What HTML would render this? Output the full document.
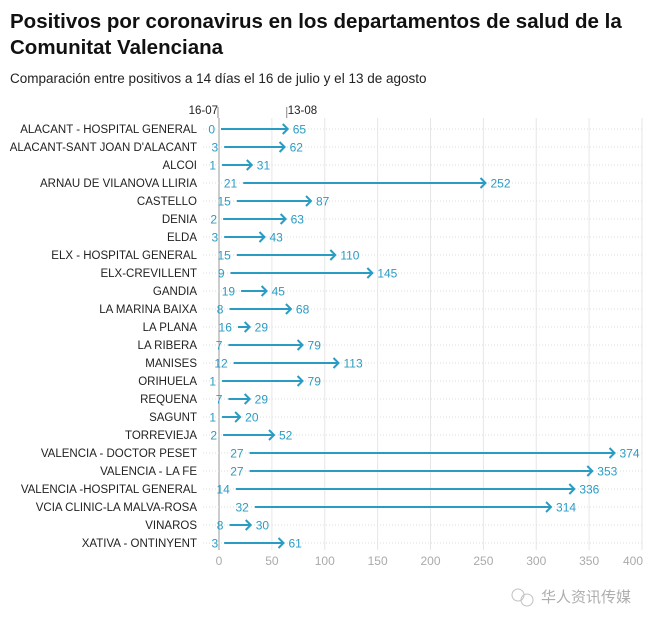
<!DOCTYPE html>
<html><head><meta charset="utf-8">
<style>
body{margin:0;background:#fff;width:657px;height:625px;overflow:hidden;font-family:"Liberation Sans",sans-serif}
</style></head><body>
<svg id="c" width="657" height="625" xmlns="http://www.w3.org/2000/svg">
<text x="10" y="28" font-size="20.5" font-weight="bold" fill="#111">Positivos por coronavirus en los departamentos de salud de la</text>
<text x="10" y="54" font-size="20.5" font-weight="bold" fill="#111">Comunitat Valenciana</text>
<text x="10" y="83" font-size="13.5" fill="#222">Comparación entre positivos a 14 días el 16 de julio y el 13 de agosto</text>
<g id="grid"></g><g id="rows"></g><g id="axis"></g>
<g opacity="0.6">
<circle cx="518" cy="595" r="6" fill="none" stroke="#999"/><circle cx="527" cy="600" r="6" fill="none" stroke="#999"/>
<text x="541" y="602" font-size="15" fill="#777" font-family="'Liberation Sans','Noto Sans CJK SC',sans-serif">华人资讯传媒</text>
</g>
</svg>
<script>
const categories=["ALACANT - HOSPITAL GENERAL","ALACANT-SANT JOAN D'ALACANT","ALCOI","ARNAU DE VILANOVA LLIRIA","CASTELLO","DENIA","ELDA","ELX - HOSPITAL GENERAL","ELX-CREVILLENT","GANDIA","LA MARINA BAIXA","LA PLANA","LA RIBERA","MANISES","ORIHUELA","REQUENA","SAGUNT","TORREVIEJA","VALENCIA - DOCTOR PESET","VALENCIA - LA FE","VALENCIA -HOSPITAL GENERAL","VCIA CLINIC-LA MALVA-ROSA","VINAROS","XATIVA - ONTINYENT"];
const julio=[0,3,1,21,15,2,3,15,9,19,8,16,7,12,1,7,1,2,27,27,14,32,8,3];
const agosto=[65,62,31,252,87,63,43,110,145,45,68,29,79,113,79,29,20,52,374,353,336,314,30,61];
const ticks=[0,50,100,150,200,250,300,350,400];
const NS="http://www.w3.org/2000/svg";
const x=v=>219+v*(642-219)/400;
const y=i=>129+i*18;
const yTop=118,yBot=550,col="#2a9cc4";
function mk(t,a,p){const e=document.createElementNS(NS,t);for(const k in a)e.setAttribute(k,a[k]);p.appendChild(e);return e;}
const grid=document.getElementById('grid'),rows=document.getElementById('rows'),axis=document.getElementById('axis');
ticks.forEach(t=>{
  const l=mk('line',{x1:x(t),x2:x(t),y1:yTop,y2:yBot,stroke:t===0?'#999':'#e6e6e6','stroke-width':1},grid);
  
  
  const tx=mk('text',{x:t===400?x(t)-9:x(t),y:565,'font-size':12,fill:'#aaa','text-anchor':'middle'},axis);
  tx.textContent=t;
  
  
});
categories.forEach((c,i)=>{
  const yy=y(i);
  const g=mk('line',{x1:203,x2:642,y1:yy,y2:yy,stroke:'#ddd','stroke-dasharray':'1,2'},grid);
  
  
  const lb=mk('text',{x:197,y:yy+4,'font-size':11.5,fill:'#222','text-anchor':'end'},rows);
  lb.textContent=c;
  
  
  const x0=x(julio[i]),x1=x(agosto[i]);
  const ln=mk('line',{x1:x0+2,x2:x1,y1:yy,y2:yy,stroke:col,'stroke-width':2},rows);
  
  
  const hd=mk('polyline',{points:`${x1-5},${yy-5} ${x1},${yy} ${x1-5},${yy+5}`,fill:'none',stroke:col,'stroke-width':2},rows);
  
  
  const s=mk('text',{x:x0-4,y:yy+4.5,'font-size':12,fill:col,'text-anchor':'end'},rows);
  s.textContent=julio[i];
  
  
  const e=mk('text',{x:x1+5,y:yy+4.5,'font-size':12,fill:col},rows);
  e.textContent=agosto[i];
  
  
});
const h0=x(julio[0]),h1=x(agosto[0]);
[[h0,'16-07'],[h1,'13-08']].forEach(([xx,t],k)=>{
  const l=mk('line',{x1:xx-1,x2:xx-1,y1:107,y2:118,stroke:'#888'},axis);
  
  
  const tx=mk('text',{x:k===0?xx-1:xx,y:114,'font-size':11.5,fill:'#222','text-anchor':k===0?'end':'start'},axis);
  tx.textContent=t;
  
  
});
</script>
</body></html>
